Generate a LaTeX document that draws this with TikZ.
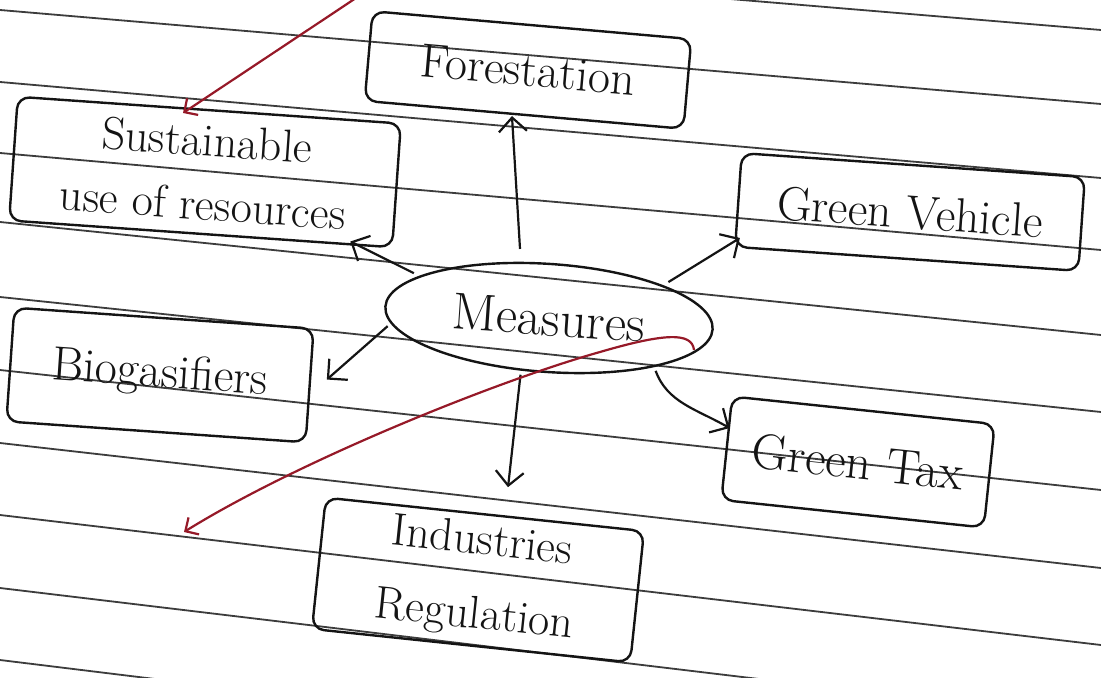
\documentclass[tikz,border=0pt]{standalone}
\usetikzlibrary{shapes.geometric,arrows.meta,calc}
\definecolor{ink}{RGB}{20,20,20}
\definecolor{redink}{RGB}{150,25,40}
\definecolor{rulecol}{RGB}{60,60,60}
\begin{document}
\begin{tikzpicture}[x=0.5pt,y=-0.5pt,
  box/.style={draw=ink, line width=1.2pt, rounded corners=6pt, inner sep=0pt, align=center,
    font=\fontsize{24}{30}\selectfont, text=ink},
  oval/.style={ellipse, draw=ink, line width=1.2pt, inner sep=0pt, text=ink,
    font=\fontsize{26}{30}\selectfont},
  arr/.style={draw=ink, line width=1.1pt, -{Straight Barb[length=7pt,width=14pt]}},
  redarr/.style={draw=redink, line width=1.1pt, -{Straight Barb[length=5pt,width=10pt]}},
  ruleline/.style={draw=rulecol, line width=0.9pt}]
\useasboundingbox (0,0) rectangle (1101,678);
\fill[white] (0,0) rectangle (1101,678);
% ruled paper lines
\foreach \l/\r in {-62/30, 10/104, 82/178, 153/250, 222/335, 297/412, 370/490, 443/568, 515/645, 588/720, 660/795}
  \draw[ruleline] (0,\l) -- (1101,\r);

% nodes
\node[oval, minimum width=164pt, minimum height=54pt, rotate=-4] (measures) at (549,318) {Measures};
\node[box, minimum width=160pt, minimum height=45pt, rotate=-5] (forest) at (528,70) {Forestation};
\node[box, minimum width=192pt, minimum height=62pt, rotate=-4, font=\fontsize{23}{32}\selectfont] (sust) at (205,172) {Sustainable\\use of resources};
\node[box, minimum width=172pt, minimum height=47pt, rotate=-4] (vehicle) at (910,212) {Green Vehicle};
\node[box, minimum width=150pt, minimum height=57pt, rotate=-4] (bio) at (160,375) {Biogasifiers};
\node[box, minimum width=132pt, minimum height=52pt, rotate=-6, font=\fontsize{25}{30}\selectfont] (tax) at (858,462) {Green Tax};
\node[box, minimum width=160pt, minimum height=66pt, rotate=-6, font=\fontsize{23}{37}\selectfont] (ind) at (478,580) {Industries\\Regulation};

% connectors
\draw[arr, shorten <=7pt] ($(measures.north)+(-32,0)$) -- ($(forest.south)+(-12,0)$);
\draw[arr, shorten <=3pt] (measures.166) -- ($(sust.south east)+(-43,-7)$);
\draw[arr, shorten <=3pt] (measures.20) -- ($(vehicle.south west)+(6,-10)$);
\draw[arr, shorten <=2pt] (measures.186) -- ($(bio.east)+(16,-6)$);
\draw[arr, shorten <=2pt] (measures.-21) to[out=-70, in=150] ($(tax.west)+(4,-20)$);
\draw[arr, shorten <=2pt] (measures.246) -- ($(ind.north)+(23,-26)$);

% red strokes
\coordinate (r1s) at (356,-2);
\coordinate (r1e) at (183,113);
\draw[redarr] (r1s) -- (r1e);
\coordinate (r2s) at (694,350);
\coordinate (r2m) at (600,352);
\coordinate (r2e) at (184,532);
\draw[redarr] (r2s) .. controls (692,332) and (665,333) .. (r2m)
  .. controls (500,380) and (300,460) .. (r2e);
\end{tikzpicture}
\end{document}
